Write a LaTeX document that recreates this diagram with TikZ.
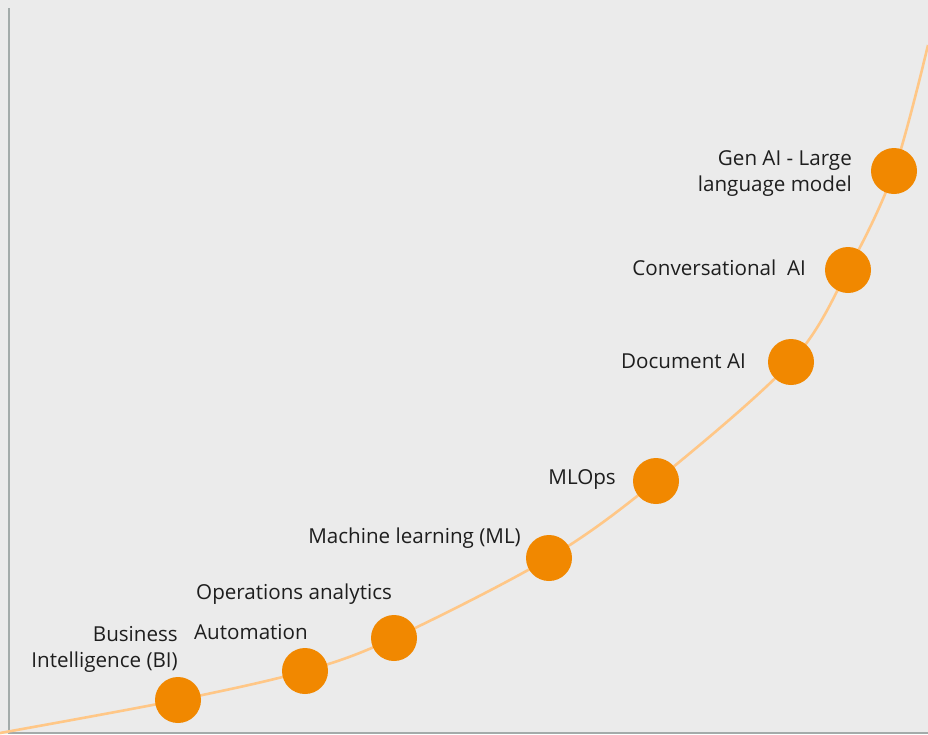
\documentclass[tikz,border=0pt]{standalone}
\usepackage{fontspec}
\setmainfont{Open Sans}
\begin{document}
\begin{tikzpicture}[x=1pt,y=-1pt,
  dot/.style={circle,fill=dotc,inner sep=0pt,minimum size=46pt},
  lbl/.style={font=\fontsize{20.6}{26.5}\selectfont,text=txtc,inner sep=0pt}]
\definecolor{bgc}{HTML}{EBEBEB}
\definecolor{dotc}{HTML}{F18800}
\definecolor{curvec}{HTML}{FFC787}
\definecolor{axisc}{HTML}{A3ABAA}
\definecolor{txtc}{HTML}{1E1E1E}
\fill[bgc] (0,0) rectangle (928,734);
\useasboundingbox (0,0) rectangle (928,734);
\coordinate (top) at (9,8);
\coordinate (orig) at (9,733);
\coordinate (xend) at (928,733);
\draw[axisc,line width=2pt] (top) -- (orig) -- (xend);
\draw[curvec,line width=2.6pt] plot[smooth,tension=0.55] coordinates {(0,733) (178,700) (305,671) (394,638) (549,558) (656,481) (791,362) (848,270) (894,171) (928,45)};
\node[dot] (bi) at (178,700) {};
\node[dot] (au) at (305,671) {};
\node[dot] (op) at (394,638) {};
\node[dot] (ml) at (549,558) {};
\node[dot] (mo) at (656,481) {};
\node[dot] (da) at (791,362) {};
\node[dot] (ca) at (848,270) {};
\node[dot] (ga) at (894,171) {};
\node[lbl,align=right,anchor=east] (tbi) at (178,649.5) {Business\\Intelligence (BI)};
\node[lbl,anchor=west] (tau) at (194,632.5) {Automation};
\node[lbl,anchor=west] (top2) at (196,594.5) {Operations analytics};
\node[lbl,anchor=east] (tml) at (521,538.5) {Machine learning (ML)};
\node[lbl,anchor=east] (tmo) at (616,479.5) {MLOps};
\node[lbl,anchor=east] (tda) at (746,361.5) {Document AI};
\node[lbl,anchor=east] (tca) at (806,267.5) {Conversational\ \ AI};
\node[lbl,align=right,anchor=east] (tga) at (852,173.5) {Gen AI - Large\\language model};
\end{tikzpicture}
\end{document}
